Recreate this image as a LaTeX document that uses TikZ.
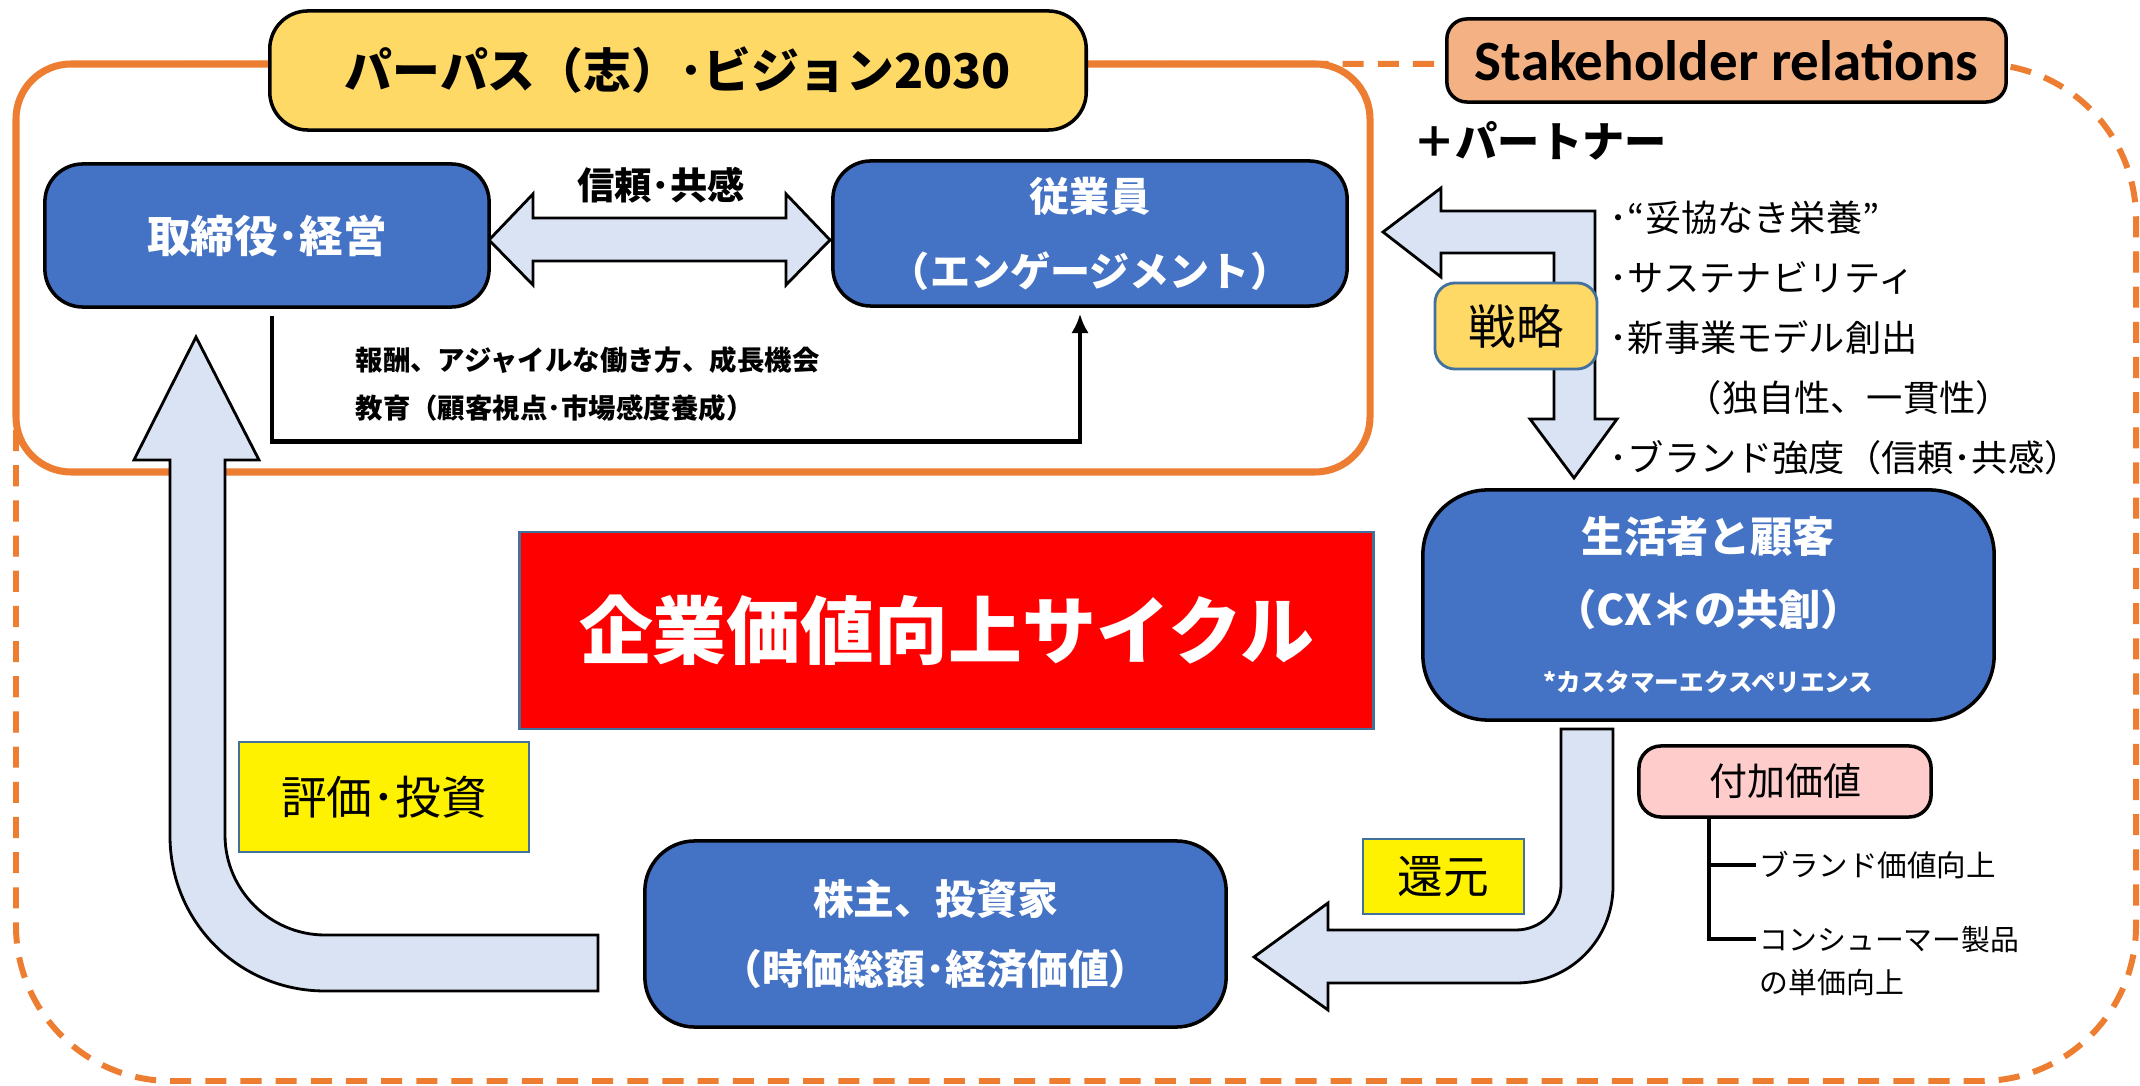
\documentclass[tikz,border=0pt]{standalone}
\usepackage{fontspec}
\setmainfont{Noto Sans CJK JP}
\newfontfamily\calibri{Carlito}
\usetikzlibrary{arrows.meta,positioning,calc}

\definecolor{boxblue}{HTML}{4472C4}
\definecolor{arrowfill}{HTML}{DAE3F3}
\definecolor{frameorange}{HTML}{ED7D31}
\definecolor{titlegold}{HTML}{FFD966}
\definecolor{salmon}{HTML}{F4B183}
\definecolor{pinkfill}{HTML}{FFCCCC}
\definecolor{edgeblue}{HTML}{41719C}

\newcommand{\setfs}[2]{\fontsize{#1}{#2}\selectfont}

\begin{document}
\begin{tikzpicture}[x=0.01cm, y=-0.01cm,
  bluebox/.style={draw=black, line width=1pt, fill=boxblue, text=white,
    align=center, inner sep=0pt, rounded corners=0.38cm},
  tagbox/.style={draw=edgeblue, line width=0.8pt, fill=yellow, inner sep=0pt},
  blockarrow/.style={draw=black, line width=0.8pt, fill=arrowfill},
  tree/.style={line width=1.1pt}]

  \useasboundingbox (0,0) rectangle (2140,1086);

  % stakeholder frame (dashed) and purpose frame (solid)
  \draw[frameorange, line width=1.7pt, dash pattern=on 6pt off 4pt,
        rounded corners=1.55cm] (16,64) rectangle (2136,1081);
  \draw[frameorange, line width=2pt, fill=white, rounded corners=0.55cm]
        (16,64) rectangle (1370,472);

  \node[draw=black, line width=1pt, fill=titlegold, rounded corners=0.38cm,
        minimum width=8.16cm, minimum height=1.19cm, inner sep=0pt,
        font=\setfs{13.6}{16}\bfseries] (title) at (678,70.5)
        {パーパス（志）･ビジョン2030};
  \node[draw=black, line width=1pt, fill=salmon, rounded corners=0.2cm,
        minimum width=5.59cm, minimum height=0.83cm, inner sep=0pt,
        font=\calibri\setfs{16.2}{18}\bfseries] (stake) at (1726.5,60.5)
        {Stakeholder relations\hspace{0.3cm}};
  \node[font=\setfs{12}{14}\bfseries] (partner) at (1540,141) {＋パートナー};

  % trust arrow between board and employees
  \filldraw[blockarrow] (489,240) -- (533,194) -- (533,218) -- (786,218)
    -- (786,194) -- (830,240) -- (786,285) -- (786,261) -- (533,261)
    -- (533,285) -- cycle;
  \node[font=\setfs{10.6}{12}\bfseries] (trust) at (661,185) {信頼･共感};

  % evaluation / investment arrow
  \filldraw[blockarrow] (598,935) -- (325,935) .. controls (270,935) and (225,890) .. (225,835)
    -- (225,460) -- (259,460) -- (196,337) -- (134,460) -- (170,460) -- (170,836)
    .. controls (170,922) and (239,991) .. (325,991) -- (598,991) -- cycle;

  % strategy arrow
  \filldraw[blockarrow] (1383,232) -- (1441,188) -- (1441,211) -- (1595,211)
    -- (1595,419) -- (1617,419) -- (1574,478) -- (1530,419) -- (1554,419)
    -- (1554,253) -- (1441,253) -- (1441,277) -- cycle;

  % return arrow
  \filldraw[blockarrow] (1561,729) -- (1561,885) .. controls (1561,910) and (1541,930) .. (1516,930)
    -- (1328,930) -- (1328,903) -- (1254,957) -- (1328,1010) -- (1328,983) -- (1516,983)
    .. controls (1570,983) and (1613,940) .. (1613,886) -- (1613,729) -- cycle;

  % the four stakeholders
  \node[bluebox, minimum width=4.44cm, minimum height=1.43cm,
        font=\setfs{12.4}{14}\bfseries] (board) at (267,235.5) {取締役･経営};
  \node[bluebox, minimum width=5.14cm, minimum height=1.45cm,
        font=\setfs{11.4}{21.3}\bfseries] (staff) at (1090,233.5)
        {従業員\\（エンゲージメント）};
  \node[bluebox, rounded corners=0.65cm, minimum width=5.71cm, minimum height=2.3cm,
        font=\setfs{12}{20.8}\bfseries] (customer) at (1708.5,605)
        {生活者と顧客\\（CX＊の共創）\\[-2pt]{\setfs{7}{8}*カスタマーエクスペリエンス}};
  \node[bluebox, rounded corners=0.5cm, minimum width=5.81cm, minimum height=1.86cm,
        font=\setfs{11.6}{19.9}\bfseries] (investor) at (935.5,934)
        {株主、投資家\\（時価総額･経済価値）};

  % board -> staff
  \draw[line width=1.4pt, -{Latex[length=5.5pt,width=5pt]}]
        ([shift={(5,7)}]board.south) -- ++(0,126) -| ([shift={(-10,6)}]staff.south);
  \node[anchor=west, align=left, inner sep=0pt, font=\setfs{7.8}{13.7}\bfseries]
        (reward) at (355,384) {報酬、アジャイルな働き方、成長機会\\教育（顧客視点･市場感度養成）};

  % centre title
  \node[draw=edgeblue, line width=0.8pt, fill=red, text=white, inner sep=0pt,
        minimum width=8.53cm, minimum height=1.97cm, font=\setfs{21}{24}\bfseries]
        (cycle) at (946.5,630.5) {企業価値向上サイクル};

  % labels on arrows
  \node[tagbox, minimum width=2.9cm, minimum height=1.1cm, font=\setfs{13}{14}]
        (evaluate) at (384,797) {評価･投資};
  \node[tagbox, minimum width=1.61cm, minimum height=0.75cm, font=\setfs{13}{15}]
        (giveback) at (1443.5,876.5) {還元};
  \node[draw=edgeblue, line width=0.8pt, fill=titlegold, rounded corners=0.2cm,
        inner sep=0pt, minimum width=1.62cm, minimum height=0.86cm,
        font=\setfs{13.5}{15}] (strategy) at (1516,326) {戦略};

  % strategy items
  \node[anchor=west, align=left, inner sep=0pt, font=\setfs{10.3}{17}] (items) at (1609,338)
        {･“妥協なき栄養”\\･サステナビリティ\\･新事業モデル創出\\
         \hspace*{2.1em}（独自性、一貫性）\\･ブランド強度（信頼･共感）};

  % added value
  \node[draw=black, line width=1pt, fill=pinkfill, rounded corners=0.22cm,
        inner sep=0pt, minimum width=2.92cm, minimum height=0.71cm,
        font=\setfs{10.8}{12}] (value) at (1785,781.5) {付加価値};
  \coordinate (brandtip) at (1756,865);
  \coordinate (pricetip) at (1756,939);
  \draw[tree] ([xshift=-0.76cm]value.south) |- (brandtip);
  \draw[tree] ([xshift=-0.76cm]value.south) |- (pricetip);
  \node[right=0.03cm of brandtip, inner sep=0pt, font=\setfs{8.4}{12}] (brand) {ブランド価値向上};
  \node[anchor=north west, align=left, inner sep=0pt, font=\setfs{8.2}{12}] (price)
        at ([shift={(3,-13)}]pricetip) {コンシューマー製品\\の単価向上};

\end{tikzpicture}
\end{document}
